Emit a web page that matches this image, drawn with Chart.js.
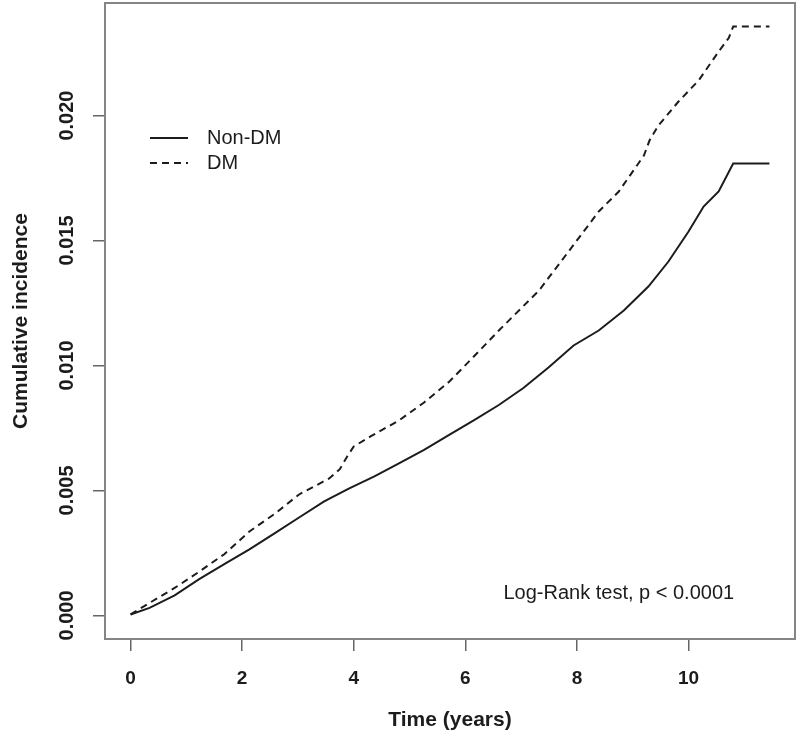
<!DOCTYPE html>
<html><head><meta charset="utf-8">
<script src="https://cdn.jsdelivr.net/npm/chart.js@4/dist/chart.umd.min.js"></script>
<style>html,body{margin:0;padding:0;background:#fff}</style>
</head><body>
<canvas id="c" width="800" height="744"></canvas>
<script>
// ---- data ----
const seriesLabels = ['Non-DM', 'DM'];
const timeNonDM = [0,0.34,0.79,1.23,1.68,2.13,2.58,3.02,3.47,3.92,4.37,4.81,5.26,5.71,6.15,6.6,7.04,7.49,7.94,8.39,8.84,9.28,9.64,10.0,10.27,10.54,10.8,11.45];
const cumNonDM  = [0.00004,0.0003,0.0008,0.00145,0.00205,0.00264,0.00328,0.00392,0.00456,0.00508,0.00556,0.00608,0.00662,0.00722,0.00780,0.00842,0.00910,0.00992,0.01080,0.01140,0.01220,0.01316,0.01416,0.01536,0.01636,0.01696,0.01808,0.01808];
const timeDM = [0,0.34,0.79,1.23,1.68,2.13,2.58,3.02,3.56,3.75,3.88,4.0,4.3,4.81,5.26,5.71,6.24,6.6,7.32,7.85,8.39,8.75,9.2,9.3,9.46,9.82,10.18,10.54,10.72,10.8,11.45];
const cumDM  = [0.00004,0.0005,0.0011,0.00175,0.00245,0.00336,0.00406,0.00484,0.00548,0.00585,0.00635,0.00676,0.00716,0.00780,0.00852,0.00935,0.01056,0.01140,0.01300,0.01456,0.01616,0.01696,0.01840,0.01900,0.01960,0.02056,0.02140,0.02256,0.02310,0.02356,0.02356];
const xTicks = [0, 2, 4, 6, 8, 10];
const yTicks = [0, 0.005, 0.010, 0.015, 0.020];
const xTitle = 'Time (years)';
const yTitle = 'Cumulative incidence';
const testLabel = 'Log-Rank test, p < 0.0001';
const testPos = [8.75, 0.00088];

// ---- styles ----
const FONT = '"Liberation Sans", Arial, Helvetica, sans-serif';
const INK = '#1c1c1c';
const dashes = [[], [7, 5]];

const toXY = (t, v) => t.map((x, i) => ({x, y: v[i]}));
const dataSets = [toXY(timeNonDM, cumNonDM), toXY(timeDM, cumDM)];

const xmax = Math.max(...timeNonDM, ...timeDM);
const ymax = Math.max(...cumNonDM, ...cumDM);
const padX = xmax * 0.04, padY = ymax * 0.04;

const decor = {
  id: 'decor',
  afterDatasetsDraw(chart) {
    const {ctx, chartArea: a, scales} = chart;
    ctx.save();
    ctx.strokeStyle = '#858585';
    ctx.lineWidth = 2;
    ctx.strokeRect(a.left, a.top, a.right - a.left, a.bottom - a.top);
    ctx.font = '20px ' + FONT;
    ctx.fillStyle = INK;
    ctx.textBaseline = 'middle';
    ctx.textAlign = 'left';
    chart.data.datasets.forEach((ds, i) => {
      const y = a.top + 135 + i * 25;
      const x0 = a.left + 45;
      ctx.strokeStyle = ds.borderColor;
      ctx.lineWidth = ds.borderWidth;
      ctx.setLineDash(ds.borderDash || []);
      ctx.beginPath();
      ctx.moveTo(x0, y); ctx.lineTo(x0 + 38, y);
      ctx.stroke();
      ctx.setLineDash([]);
      ctx.fillText(ds.label, x0 + 57, y);
    });
    ctx.textAlign = 'center';
    ctx.fillText(testLabel, scales.x.getPixelForValue(testPos[0]), scales.y.getPixelForValue(testPos[1]));
    ctx.restore();
  }
};

new Chart(document.getElementById('c'), {
  type: 'line',
  data: {
    datasets: dataSets.map((d, i) => ({
      label: seriesLabels[i],
      data: d,
      borderColor: INK,
      borderWidth: 2,
      borderDash: dashes[i],
      pointRadius: 0,
      fill: false,
      tension: 0
    }))
  },
  options: {
    responsive: false,
    animation: false,
    devicePixelRatio: 1,
    layout: {padding: {top: 3, right: 5, left: 0, bottom: 0}},
    plugins: {legend: {display: false}, tooltip: {enabled: false}},
    scales: {
      x: {
        type: 'linear',
        min: -padX, max: xmax + padX,
        afterBuildTicks: s => { s.ticks = xTicks.map(v => ({value: v})); },
        afterFit: s => { s.height = 105; s.paddingLeft = 0; s.paddingRight = 0; },
        grid: {drawOnChartArea: false, drawTicks: true, tickLength: 12, color: '#666', lineWidth: 1.5},
        border: {display: false},
        ticks: {color: INK, font: {family: FONT, size: 19, weight: 'bold'}, padding: 16, maxRotation: 0,
                callback: v => String(v)},
        title: {display: true, text: xTitle, color: INK, font: {family: FONT, size: 21, weight: 'bold'}, padding: {top: 0, bottom: 11}}
      },
      y: {
        type: 'linear',
        min: -padY, max: ymax + padY,
        afterBuildTicks: s => { s.ticks = yTicks.map(v => ({value: v})); },
        afterFit: s => { s.width = 105; s.paddingTop = 0; s.paddingBottom = 0; },
        grid: {drawOnChartArea: false, drawTicks: true, tickLength: 12, color: '#666', lineWidth: 1.5},
        border: {display: false},
        ticks: {color: INK, font: {family: FONT, size: 20, weight: 'bold'}, padding: 0, minRotation: 90, maxRotation: 90,
                crossAlign: 'center', callback: v => v.toFixed(3)},
        title: {display: true, text: yTitle, color: INK, font: {family: FONT, size: 21, weight: 'bold'}, padding: {top: 9, bottom: 0}}
      }
    }
  },
  plugins: [decor]
});
</script>
</body></html>
